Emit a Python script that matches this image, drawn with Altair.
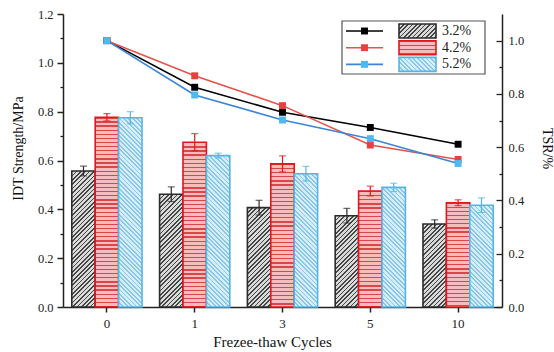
import math
import altair as alt
import pandas as pd

# ---------------- data ----------------
cycles = ["0", "1", "3", "5", "10"]
series = ["3.2%", "4.2%", "5.2%"]

idt_32 = [0.557, 0.462, 0.407, 0.374, 0.340]
idt_42 = [0.777, 0.675, 0.586, 0.475, 0.427]
idt_52 = [0.775, 0.620, 0.546, 0.490, 0.417]
err_32 = [0.020, 0.030, 0.030, 0.030, 0.017]
err_42 = [0.015, 0.035, 0.033, 0.020, 0.012]
err_52 = [0.025, 0.010, 0.030, 0.017, 0.030]

tsr_32 = [1.000, 0.825, 0.731, 0.674, 0.611]
tsr_42 = [1.000, 0.868, 0.756, 0.608, 0.554]
tsr_52 = [1.000, 0.796, 0.702, 0.632, 0.539]

left_ticks = [0.0, 0.2, 0.4, 0.6, 0.8, 1.0, 1.2]
left_minor = [0.1, 0.3, 0.5, 0.7, 0.9, 1.1]
right_ticks = [0.0, 0.2, 0.4, 0.6, 0.8, 1.0]
right_minor = [0.1, 0.3, 0.5, 0.7, 0.9]

# ---------------- styling ----------------
FONT = "Liberation Serif"
W, H = 439, 293
Y_LEFT_MAX, Y_RIGHT_MAX = 1.2, 1.1
PX = H / Y_LEFT_MAX
BAR_W = W / 5 * 0.8 / 3

bar_stroke = ["#2b2b2b", "#e3161d", "#52b5e8"]
line_col = ["#000000", "#e5534b", "#3b84d9"]
mark_col = ["#000000", "#e5413f", "#4fb9ef"]
hatch = [  # kind, background, line, period, line fraction
    ("fwd", "#dadada", "#454545", 3.1, 0.38),
    ("horiz", "#f7bcbc", "#d9474b", 4.1, 0.3),
    ("back", "#d8eff9", "#88c7ea", 3.1, 0.42),
]
SQ2 = math.sqrt(2)


def stop_list(bg, fg, n, frac):
    out = []
    for k in range(n):
        a, b, c = k / n, (k + frac) / n, (k + 1) / n
        out += [(a, fg), (b, fg), (b, bg), (c, bg)]
    return out


def grad_expr(kind, bg, fg, period, frac, w, h):
    if kind == "horiz":
        n = 52
        L = n * period
        st = "[" + ",".join("{offset:%.5f,color:'%s'}" % (o, c) for o, c in stop_list(bg, fg, n, frac)) + "]"
        return f"{{gradient:'linear',x1:0,y1:0,x2:0.00001,y2:{L:.3f}/{h},stops:{st}}}"
    n = 54
    L = n * period
    st = "[" + ",".join("{offset:%.5f,color:'%s'}" % (o, c) for o, c in stop_list(bg, fg, n, frac)) + "]"
    s = f"({SQ2 * L:.4f}/({w}/{h}+{h}/{w}))"
    if kind == "fwd":
        return f"{{gradient:'linear',x1:0,y1:0,x2:{s}/{h},y2:{s}/{w},stops:{st}}}"
    return f"{{gradient:'linear',x1:0,y1:1,x2:{s}/{h},y2:1-{s}/{w},stops:{st}}}"


def grad_dict(kind, bg, fg, period, frac, w, h):
    if kind == "horiz":
        n = max(1, math.ceil(h / period))
        L = n * period
        x1, y1, x2, y2 = 0, 0, 0.00001, L / h
    else:
        n = max(1, math.ceil((w + h) / SQ2 / period))
        L = n * period
        s = SQ2 * L / (w / h + h / w)
        if kind == "fwd":
            x1, y1, x2, y2 = 0, 0, s / h, s / w
        else:
            x1, y1, x2, y2 = 0, 1, s / h, 1 - s / w
    return {"gradient": "linear", "x1": x1, "y1": y1, "x2": x2, "y2": y2,
            "stops": [{"offset": o, "color": c} for o, c in stop_list(bg, fg, n, frac)]}


h_expr = f"(max(datum.idt*{PX:.4f},1))"
w_expr = f"{BAR_W:.4f}"
g = [grad_expr(k, bg, fg, p, fr, w_expr, h_expr) for k, bg, fg, p, fr in hatch]
fill_expr = f"datum.series==='{series[0]}' ? {g[0]} : (datum.series==='{series[1]}' ? {g[1]} : {g[2]})"

# ---------------- tables ----------------
rows = []
for s, vals, errs in zip(series, [idt_32, idt_42, idt_52], [err_32, err_42, err_52]):
    for c, v, e in zip(cycles, vals, errs):
        rows.append({"cycle": c, "series": s, "idt": v, "lo": v - e, "hi": v + e})
bars_df = pd.DataFrame(rows)

lrows = []
for s, vals in zip(series, [tsr_32, tsr_42, tsr_52]):
    for c, v in zip(cycles, vals):
        lrows.append({"cycle": c, "series": s, "tsr": v})
lines_df = pd.DataFrame(lrows)

# ---------------- encodings ----------------
x_axis = alt.Axis(title="Frezee-thaw Cycles", labelAngle=0, tickSize=5, labelPadding=5,
                  labelFontSize=13, titleFontSize=15, titleX=209, titleY=39,
                  titleAlign="center", titleBaseline="alphabetic")
x_enc = alt.X("cycle:N", scale=alt.Scale(domain=cycles, paddingInner=0.2, paddingOuter=0.1), axis=x_axis)
xoff = alt.XOffset("series:N", scale=alt.Scale(domain=series, paddingInner=0, paddingOuter=0))
left_scale = alt.Scale(domain=[0, Y_LEFT_MAX], nice=False)
right_scale = alt.Scale(domain=[0, Y_RIGHT_MAX], nice=False)

y_left_axis = alt.Axis(orient="left", values=left_ticks, format=".1f", title="IDT Strength/MPa",
                       tickSize=6, labelPadding=4, titleX=-45, titleY=134, titleAngle=270,
                       titleAlign="center", titleBaseline="middle", titleFontSize=14)
y_right_axis = alt.Axis(orient="right", values=right_ticks, format=".1f", title="TSR/%",
                        ticks=False, labelPadding=6, titleX=44, titleY=134, titleAngle=90,
                        titleAlign="center", titleBaseline="middle", titleFontSize=14)

bar_stroke_scale = alt.Scale(domain=series, range=bar_stroke)

bars = alt.Chart(bars_df).mark_bar(strokeWidth=1.6).encode(
    x=x_enc, xOffset=xoff,
    y=alt.Y("idt:Q", scale=left_scale, axis=y_left_axis),
    stroke=alt.Stroke("series:N", scale=bar_stroke_scale, legend=None),
    fill=alt.value({"expr": fill_expr}),
)
err_rule = alt.Chart(bars_df).mark_rule(strokeWidth=1.2).encode(
    x=x_enc, xOffset=xoff,
    y=alt.Y("lo:Q", scale=left_scale), y2="hi:Q",
    color=alt.Color("series:N", scale=bar_stroke_scale, legend=None),
)
cap_hi = alt.Chart(bars_df).mark_tick(orient="horizontal", size=7, thickness=1.2).encode(
    x=x_enc, xOffset=xoff, y=alt.Y("hi:Q", scale=left_scale),
    color=alt.Color("series:N", scale=bar_stroke_scale, legend=None),
)
cap_lo = alt.Chart(bars_df).mark_tick(orient="horizontal", size=7, thickness=1.2).encode(
    x=x_enc, xOffset=xoff, y=alt.Y("lo:Q", scale=left_scale),
    color=alt.Color("series:N", scale=bar_stroke_scale, legend=None),
)
bars_layer = alt.layer(bars, err_rule, cap_hi, cap_lo)

lines = alt.Chart(lines_df).mark_line(strokeWidth=1.6).encode(
    x=x_enc,
    y=alt.Y("tsr:Q", scale=right_scale, axis=y_right_axis),
    stroke=alt.Stroke("series:N", scale=alt.Scale(domain=series, range=line_col), legend=None),
    detail="series:N",
)
squares = alt.Chart(lines_df).mark_square(size=48, opacity=1, filled=True).encode(
    x=x_enc,
    y=alt.Y("tsr:Q", scale=right_scale),
    fill=alt.Fill("series:N", scale=alt.Scale(domain=series, range=mark_col), legend=None),
)
lines_layer = alt.layer(lines, squares)

tick_axis_common = dict(labels=False, domain=False, grid=False, title=None, tickWidth=1.3)
minor_left = alt.Chart(bars_df).mark_point(opacity=0).encode(
    y=alt.Y("idt:Q", scale=alt.Scale(domain=[0, Y_LEFT_MAX], nice=False),
            axis=alt.Axis(orient="left", values=left_minor, tickSize=3, **tick_axis_common)))
right_major_in = alt.Chart(lines_df).mark_point(opacity=0).encode(
    y=alt.Y("tsr:Q", scale=alt.Scale(domain=[0, Y_RIGHT_MAX], nice=False),
            axis=alt.Axis(orient="left", offset=-W, values=right_ticks, tickSize=6, **tick_axis_common)))
right_minor_in = alt.Chart(lines_df).mark_point(opacity=0).encode(
    y=alt.Y("tsr:Q", scale=alt.Scale(domain=[0, Y_RIGHT_MAX], nice=False),
            axis=alt.Axis(orient="left", offset=-W, values=right_minor, tickSize=3, **tick_axis_common)))

# ---------------- legend ----------------
one = pd.DataFrame({"k": [0]})
leg_layers = [alt.Chart(one).mark_rect(fill="white", stroke="#555", strokeWidth=1.2).encode(
    x=alt.value(279), x2=alt.value(422), y=alt.value(7), y2=alt.value(60))]
row_y = [17, 33.7, 50.4]
for i, s in enumerate(series):
    r = row_y[i]
    d = pd.DataFrame({"series": [s]})
    kind, bg, fg, p, fr = hatch[i]
    leg_layers += [
        alt.Chart(d).mark_rule(color=line_col[i], strokeWidth=1.6).encode(
            x=alt.value(283), x2=alt.value(320), y=alt.value(r)),
        alt.Chart(d).mark_square(color=mark_col[i], size=48, opacity=1, filled=True).encode(
            x=alt.value(301.5), y=alt.value(r)),
        alt.Chart(d).mark_rect(fill=grad_dict(kind, bg, fg, p, fr, 37, 14), stroke=bar_stroke[i],
                               strokeWidth=1.6).encode(
            x=alt.value(336), x2=alt.value(373), y=alt.value(r - 7), y2=alt.value(r + 7)),
        alt.Chart(d).mark_text(align="left", baseline="middle", font=FONT, fontSize=14,
                               color="#222").encode(
            x=alt.value(379), y=alt.value(r), text="series:N"),
    ]
legend_layer = alt.layer(*leg_layers)

chart = alt.layer(
    bars_layer, lines_layer, minor_left, right_major_in, right_minor_in, legend_layer
).resolve_scale(
    y="independent", stroke="independent", fill="independent", color="independent"
).properties(
    width=W, height=H,
    padding={"left": 63, "top": 14, "right": 52, "bottom": 45},
    autosize=alt.AutoSizeParams(type="none"),
).configure_axis(
    labelFont=FONT, titleFont=FONT, labelFontSize=12.5, labelColor="#222", titleColor="#111",
    domainColor="#222", domainWidth=1.5, tickColor="#222", tickWidth=1.5, grid=False,
    titleFontWeight="normal",
).configure_view(stroke=None)

chart.save("out.html", embed_options={"renderer": "svg", "actions": False})
